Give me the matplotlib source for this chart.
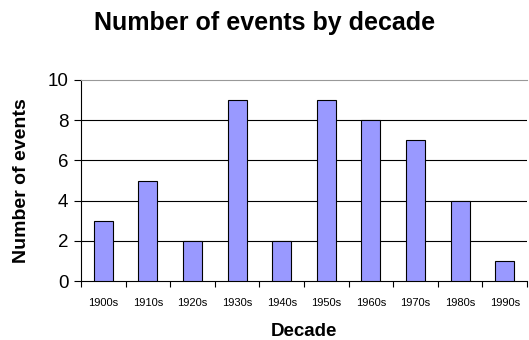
import matplotlib
matplotlib.use("Agg")
import matplotlib.pyplot as plt
import numpy as np

decades = ["1900s", "1910s", "1920s", "1930s", "1940s",
           "1950s", "1960s", "1970s", "1980s", "1990s"]
events = [3, 5, 2, 9, 2, 9, 8, 7, 4, 1]
y_ticks = [0, 2, 4, 6, 8, 10]

plt.rcParams["font.family"] = ["Liberation Sans", "DejaVu Sans"]

fig = plt.figure(figsize=(5.29, 3.40), dpi=100)
ax = fig.add_axes([81 / 529, 1 - 281 / 340, (527 - 81) / 529, (281 - 80) / 340])

x = np.arange(len(decades))
ax.bar(x, events, width=0.43, color="#9999FF", edgecolor="black", linewidth=0.8, zorder=3)

ax.set_xlim(-0.5, len(decades) - 0.5)
ax.set_ylim(0, 10)
ax.set_yticks(y_ticks)
ax.set_yticklabels([str(v) for v in y_ticks], fontsize=13.5)

# category labels centred, tick marks between categories
ax.set_xticks(x)
ax.set_xticklabels(decades, fontsize=8)
ax.tick_params(axis="x", length=0, pad=12)
ax.set_xticks(np.arange(-0.5, len(decades)), minor=True)
ax.tick_params(axis="x", which="minor", length=4, direction="out", color="black", width=0.8)
ax.tick_params(axis="y", length=5, direction="out", width=0.8, pad=4)

for v in y_ticks[1:-1]:
    ax.axhline(v, color="black", linewidth=0.8, zorder=1)

ax.spines["right"].set_visible(False)
ax.spines["top"].set_color("#999999")
ax.spines["top"].set_linewidth(0.8)
for side in ["left", "bottom"]:
    ax.spines[side].set_color("black")
    ax.spines[side].set_linewidth(0.8)

ax.set_xlabel("Decade", fontsize=13.5, fontweight="bold", labelpad=11)
ax.set_ylabel("Number of events", fontsize=14, fontweight="bold", labelpad=13)
fig.text(0.5, 1 - 23 / 340, "Number of events by decade", fontsize=18,
         fontweight="bold", ha="center", va="center")

fig.savefig("out.png", dpi=100)
